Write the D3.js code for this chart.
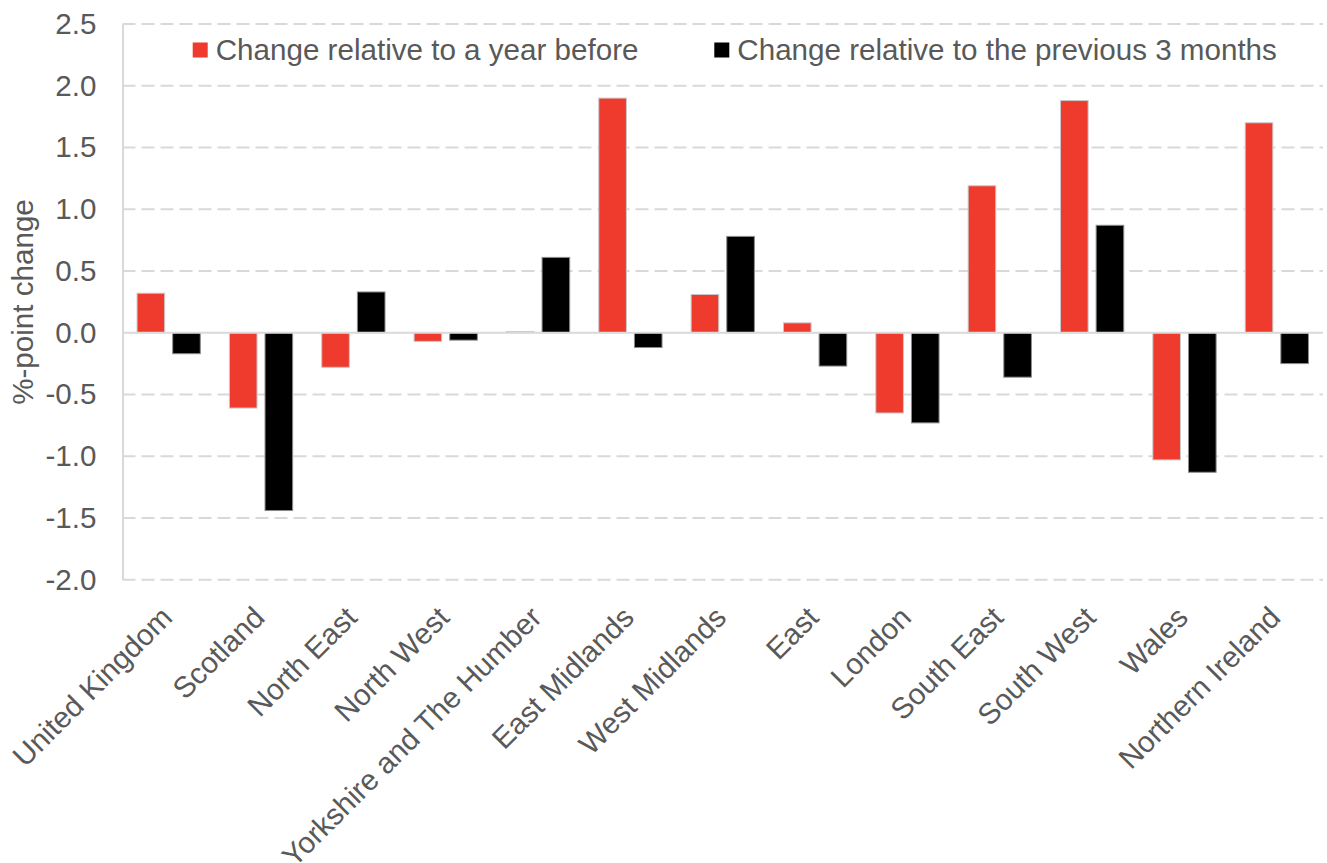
<!DOCTYPE html>
<html>
<head>
<meta charset="utf-8">
<script src="https://cdn.jsdelivr.net/npm/d3@7"></script>
<style>
  html, body { margin: 0; padding: 0; background: #fff; }
  svg text { font-family: "Liberation Sans", Arial, sans-serif; fill: #595959; }
</style>
</head>
<body>
<svg id="chart" width="1327" height="863"></svg>
<script>
// Regional change, %-points
const regions = ["United Kingdom", "Scotland", "North East", "North West",
  "Yorkshire and The Humber", "East Midlands", "West Midlands", "East",
  "London", "South East", "South West", "Wales", "Northern Ireland"];
const yearChange = [0.32, -0.61, -0.28, -0.07, 0.01, 1.90, 0.31, 0.08, -0.65, 1.19, 1.88, -1.03, 1.70];
const quarterChange = [-0.17, -1.44, 0.33, -0.06, 0.61, -0.12, 0.78, -0.27, -0.73, -0.36, 0.87, -1.13, -0.25];
const seriesNames = ["Change relative to a year before", "Change relative to the previous 3 months"];
const seriesColors = ["#ee3b2d", "#000000"];
const yTicks = [-2.0, -1.5, -1.0, -0.5, 0.0, 0.5, 1.0, 1.5, 2.0, 2.5];

const svg = d3.select("#chart");
const FONT = 29.6;
const plotLeft = 122.5, plotRight = 1323, plotTop = 24, plotBottom = 579.7;

const x0 = d3.scaleBand().domain(regions).range([plotLeft, plotRight]).padding(0);
const x1 = d3.scaleBand().domain([0, 1]).range([0, x0.bandwidth()])
  .paddingInner(0.225).paddingOuter(0.408);
const y = d3.scaleLinear().domain([-2.0, 2.5]).range([plotBottom, plotTop]);

// gridlines
const grid = svg.append("g");
grid.selectAll("line").data(yTicks.filter(d => d !== 0)).join("line")
  .attr("x1", plotLeft).attr("x2", plotRight)
  .attr("y1", d => y(d)).attr("y2", d => y(d))
  .attr("stroke", "#d9d9d9").attr("stroke-width", 2)
  .attr("stroke-dasharray", "13,6");

// y axis (plain hyphen for negatives)
const fmt = d => d.toFixed(1);
const yAxis = d3.axisLeft(y).tickValues(yTicks).tickFormat(fmt)
  .tickSize(0).tickPadding(26);
const gy = svg.append("g").attr("transform", `translate(${plotLeft},0)`).call(yAxis);
gy.select(".domain").attr("stroke", "#d9d9d9").attr("stroke-width", 2);
gy.selectAll("text").style("font-size", FONT + "px")
  .style("font-family", "'Liberation Sans', Arial, sans-serif").attr("fill", "#595959");

// bars
const data = regions.map((r, i) => ({ region: r, values: [yearChange[i], quarterChange[i]] }));
const groups = svg.append("g").selectAll("g").data(data).join("g")
  .attr("transform", d => `translate(${x0(d.region)},0)`);
groups.selectAll("rect").data(d => d.values.map((v, k) => ({ v, k }))).join("rect")
  .attr("x", d => x1(d.k))
  .attr("width", x1.bandwidth())
  .attr("y", d => Math.min(y(d.v), y(0)))
  .attr("height", d => Math.max(1, Math.abs(y(d.v) - y(0))))
  .attr("fill", d => seriesColors[d.k])
  .attr("stroke", d => d.k === 0 ? "#c9c9c9" : "#8c8c8c")
  .attr("stroke-width", 1);

// zero line
svg.append("line")
  .attr("x1", plotLeft).attr("x2", plotRight)
  .attr("y1", y(0)).attr("y2", y(0))
  .attr("stroke", "#d9d9d9").attr("stroke-width", 2);

// category labels
svg.append("g").selectAll("text").data(regions).join("text")
  .attr("transform", d => `translate(${x0(d) + x0.bandwidth() / 2 - 2},612) rotate(-45)`)
  .attr("text-anchor", "end")
  .attr("dy", "0.35em")
  .style("font-size", FONT + "px")
  .text(d => d);

// y axis title
svg.append("text")
  .attr("transform", `translate(33,302) rotate(-90)`)
  .attr("text-anchor", "middle")
  .style("font-size", FONT + "px")
  .text("%-point change");

// legend
const legendX = [192.7, 714.3];
const legend = svg.append("g");
seriesNames.forEach((name, i) => {
  legend.append("rect")
    .attr("x", legendX[i]).attr("y", 42.5)
    .attr("width", 15).attr("height", 15)
    .attr("fill", seriesColors[i]);
  legend.append("text")
    .attr("x", legendX[i] + 23).attr("y", 60)
    .style("font-size", FONT + "px")
    .text(name);
});
</script>
</body>
</html>
